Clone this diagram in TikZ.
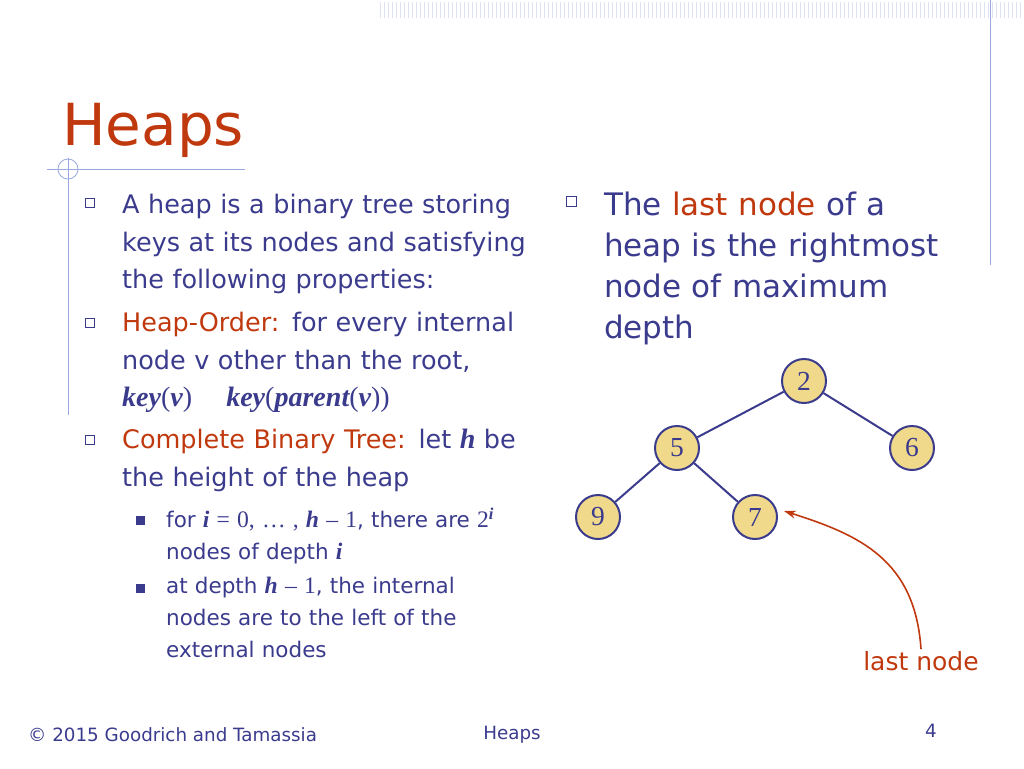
\documentclass[tikz,border=0pt]{standalone}
\usepackage{fontspec}
\setmainfont{DejaVu Sans}
\newfontfamily\mathser[Scale=1.1]{Liberation Serif}
\usetikzlibrary{positioning,arrows.meta}
\definecolor{slideblue}{HTML}{3B3B8E}
\definecolor{slidered}{HTML}{C0390E}
\definecolor{decoblue}{HTML}{9AA8E0}
\definecolor{keyfill}{HTML}{F0D98A}
\newcommand{\mv}[1]{{\mathser\bfseries\itshape #1}}
\newcommand{\mr}[1]{{\mathser #1}}
\tikzset{
  body/.style={anchor=north west, align=left, text=slideblue, inner sep=0pt},
  key/.style={circle, draw=slideblue, line width=2pt, fill=keyfill, minimum size=44pt, inner sep=0pt, font=\mathser\fontsize{25}{25}\selectfont, text=slideblue},
  box/.style={draw=slideblue, line width=0.8pt},
}
\begin{document}
\begin{tikzpicture}[x=1pt,y=-1pt]
  \useasboundingbox (0,0) rectangle (1024,768);
  % Verzierung oben
  \foreach \x in {380,384,...,1020} \draw[decoblue!35, line width=0.6pt] (\x,2) -- (\x,18);
  \draw[decoblue, line width=0.8pt] (990,0) -- (990,265);
  \draw[decoblue, line width=0.8pt] (47,169) -- (245,169);
  \draw[decoblue, line width=0.8pt] (68,158) -- (68,415);
  \draw[decoblue, line width=0.8pt] (68,169) circle (10);
  % Titel
  \node[anchor=base west, inner sep=0pt, text=slidered, font=\fontsize{58}{58}\selectfont] (title) at (62,145) {Heaps};
  % linke Spalte
  \tikzset{fbig/.style={font=\fontsize{25.5}{37.5}\selectfont}, fsmall/.style={font=\fontsize{21.5}{32}\selectfont}}
  \foreach \y in {203,323,440} \draw[box] (85,\y-5) rectangle (94,\y+4);
  \foreach \y in {521,589} \fill[slideblue] (136,\y-5) rectangle (145,\y+4);
  \node[body, fbig, text width=430pt] (p1) at (122,194) {A heap is a binary tree storing\\ keys at its nodes and satisfying\\ the following properties:};
  \node[body, fbig, text width=430pt] (p2) at (122,312) {\textcolor{slidered}{Heap-Order:} for every internal\\ node v other than the root,\\ \mv{key}\mr{(}\mv{v}\mr{)} \quad \mv{key}\mr{(}\mv{parent}\mr{(}\mv{v}\mr{))}};
  \node[body, fbig, text width=430pt] (p3) at (122,429) {\textcolor{slidered}{Complete Binary Tree:} let \mv{h} be\\ the height of the heap};
  \node[body, fsmall, text width=360pt] (s1) at (166,508) {for \mv{i} \mr{= 0, … ,} \mv{h} \mr{– 1}, there are \mr{2}\textsuperscript{\mv{i}}\\ nodes of depth \mv{i}};
  \node[body, fsmall, text width=340pt] (s2) at (166,577) {at depth \mv{h} \mr{– 1}, the internal\\ nodes are to the left of the\\ external nodes};
  % rechte Spalte
  \draw[box] (566,196) rectangle (576,206);
  \node[body, font=\fontsize{31}{41}\selectfont, text width=380pt] (p4) at (604,192) {The \textcolor{slidered}{last node} of a\\ heap is the rightmost\\ node of maximum\\ depth};
  % Baum
  \node[key] (k2) at (804,381) {2};
  \node[key] (k5) at (677,448) {5};
  \node[key] (k6) at (912,448) {6};
  \node[key] (k9) at (598,517) {9};
  \node[key] (k7) at (755,517) {7};
  \draw[slideblue, line width=2pt] (k2) -- (k5) (k2) -- (k6) (k5) -- (k9) (k5) -- (k7);
  \node[text=slidered, font=\fontsize{25}{25}\selectfont, inner sep=2pt] (last) at (921,661) {last node};
  \draw[-{Stealth[length=12pt,width=8pt]}, slidered, line width=1.6pt] (last.north) .. controls (915,560) and (860,535) .. ([xshift=6pt,yshift=6pt]k7.east);
  % Fusszeile
  \node[anchor=west, inner sep=0pt, text=slideblue, font=\fontsize{18.3}{18}\selectfont] (foot) at (28,735) {© 2015 Goodrich and Tamassia};
  \node[inner sep=0pt, text=slideblue, font=\fontsize{18.3}{18}\selectfont] (foottitle) at (512,735) {Heaps};
  \node[inner sep=0pt, text=slideblue, font=\fontsize{18.3}{18}\selectfont] (page) at (931,731) {4};
\end{tikzpicture}
\end{document}
